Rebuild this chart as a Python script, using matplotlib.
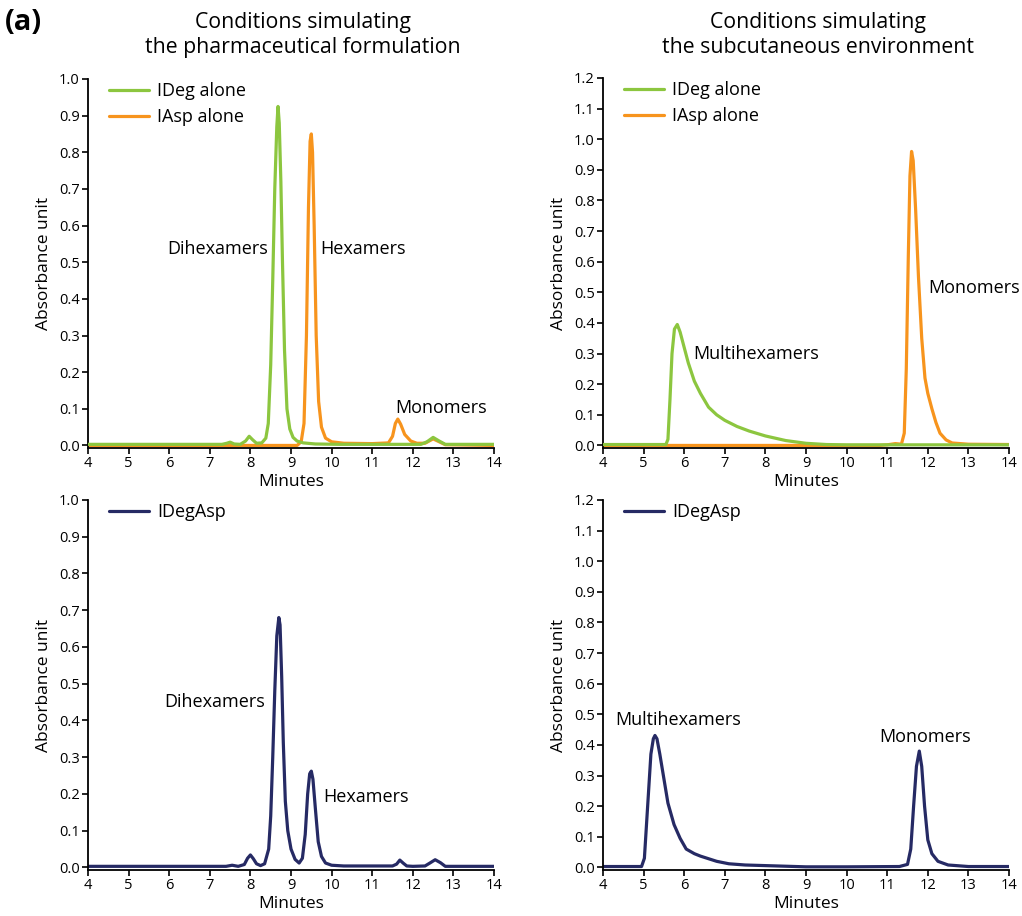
"""
Size-exclusion chromatograms: IDeg, IAsp and IDegAsp
under formulation vs subcutaneous conditions
"""
import matplotlib.pyplot as plt

plt.rcParams['font.family'] = ['Open Sans', 'DejaVu Sans']

GREEN = '#8cc63f'
ORANGE = '#f7941d'
NAVY = '#262a64'

# ---- data (minutes, absorbance unit) ----
# top left: pharmaceutical formulation conditions
form_ideg_x = [4, 7.3, 7.42, 7.5, 7.6, 7.75, 7.88, 7.97, 8.05, 8.15, 8.28, 8.38, 8.44, 8.5,
               8.55, 8.6, 8.65, 8.68, 8.71, 8.75, 8.79, 8.84, 8.9, 8.97, 9.05, 9.15, 9.3,
               9.6, 10.2, 12.2, 12.35, 12.5, 12.65, 12.8, 14]
form_ideg_y = [0.003, 0.003, 0.006, 0.009, 0.004, 0.003, 0.012, 0.025, 0.016, 0.006, 0.007,
               0.02, 0.06, 0.22, 0.45, 0.7, 0.87, 0.925, 0.88, 0.72, 0.5, 0.26, 0.1, 0.045,
               0.022, 0.012, 0.007, 0.004, 0.003, 0.003, 0.01, 0.022, 0.012, 0.003, 0.003]

form_iasp_x = [4, 9.15, 9.25, 9.32, 9.38, 9.43, 9.47, 9.5, 9.53, 9.57, 9.62, 9.68, 9.75,
               9.85, 10.0, 10.3, 11.0, 11.4, 11.5, 11.57, 11.63, 11.7, 11.8, 11.95, 12.1,
               12.3, 12.5, 12.65, 12.8, 14]
form_iasp_y = [0.0, 0.0, 0.01, 0.06, 0.3, 0.65, 0.83, 0.85, 0.8, 0.6, 0.3, 0.12, 0.05,
               0.02, 0.01, 0.006, 0.005, 0.007, 0.025, 0.06, 0.072, 0.058, 0.03, 0.012,
               0.006, 0.006, 0.018, 0.01, 0.002, 0.0]

# top right: subcutaneous conditions
subq_ideg_x = [4, 5.55, 5.6, 5.65, 5.7, 5.76, 5.83, 5.9, 6.0, 6.1, 6.25, 6.4, 6.6, 6.8,
               7.0, 7.3, 7.6, 8.0, 8.5, 9.0, 9.5, 10, 14]
subq_ideg_y = [0.003, 0.003, 0.02, 0.15, 0.3, 0.38, 0.395, 0.37, 0.32, 0.27, 0.21, 0.17,
               0.125, 0.10, 0.082, 0.062, 0.047, 0.031, 0.016, 0.007, 0.003, 0.002, 0.002]

subq_iasp_x = [4, 10.8, 11.0, 11.2, 11.35, 11.42, 11.47, 11.52, 11.56, 11.6, 11.64, 11.7,
               11.77, 11.85, 11.93, 12.0, 12.1, 12.2, 12.3, 12.45, 12.6, 13.0, 14]
subq_iasp_y = [0.0, 0.0, 0.002, 0.006, 0.004, 0.04, 0.25, 0.62, 0.88, 0.96, 0.93, 0.77,
               0.55, 0.35, 0.22, 0.17, 0.12, 0.075, 0.04, 0.018, 0.008, 0.004, 0.003]

# bottom left: IDegAsp, formulation
form_combo_x = [4, 7.4, 7.55, 7.7, 7.85, 7.93, 8.0, 8.07, 8.15, 8.25, 8.35, 8.45, 8.5,
                8.55, 8.6, 8.65, 8.7, 8.73, 8.77, 8.81, 8.86, 8.92, 9.0, 9.1, 9.2, 9.28,
                9.35, 9.41, 9.46, 9.5, 9.54, 9.6, 9.67, 9.75, 9.85, 10.0, 10.3, 11.5,
                11.6, 11.68, 11.76, 11.85, 12.0, 12.3, 12.42, 12.55, 12.68, 12.8, 14]
form_combo_y = [0.003, 0.003, 0.006, 0.003, 0.008, 0.025, 0.034, 0.024, 0.01, 0.005, 0.01,
                0.05, 0.14, 0.3, 0.48, 0.63, 0.68, 0.66, 0.52, 0.34, 0.18, 0.1, 0.05,
                0.022, 0.012, 0.025, 0.09, 0.2, 0.255, 0.262, 0.24, 0.16, 0.07, 0.03,
                0.012, 0.006, 0.004, 0.004, 0.009, 0.02, 0.012, 0.004, 0.003, 0.004,
                0.012, 0.021, 0.013, 0.003, 0.003]

# bottom right: IDegAsp, subcutaneous
subq_combo_x = [4, 4.95, 5.02, 5.1, 5.18, 5.24, 5.28, 5.33, 5.4, 5.5, 5.6, 5.75, 5.9,
                6.05, 6.25, 6.4, 6.8, 7.1, 7.5, 8.0, 9.0, 10.0, 11.3, 11.5, 11.58, 11.65,
                11.72, 11.79, 11.85, 11.92, 12.0, 12.1, 12.25, 12.5, 13.0, 14]
subq_combo_y = [0.003, 0.003, 0.03, 0.2, 0.37, 0.42, 0.431, 0.42, 0.37, 0.29, 0.21, 0.14,
                0.095, 0.06, 0.045, 0.037, 0.02, 0.012, 0.008, 0.006, 0.002, 0.002, 0.003,
                0.01, 0.06, 0.2, 0.33, 0.38, 0.33, 0.2, 0.09, 0.045, 0.02, 0.008, 0.003,
                0.003]

x_ticks = list(range(4, 15))
titles = ['Conditions simulating\nthe pharmaceutical formulation',
          'Conditions simulating\nthe subcutaneous environment']

fig = plt.figure(figsize=(10.22, 9.16), dpi=100)
W = 0.3973
ax_tl = fig.add_axes([0.0861, 0.5109, W, 0.4029])
ax_tr = fig.add_axes([0.5900, 0.5109, W, 0.4040])
ax_bl = fig.add_axes([0.0861, 0.0502, W, 0.4040])
ax_br = fig.add_axes([0.5900, 0.0502, W, 0.4040])

LW = 2.3
line_kw = dict(lw=LW, solid_joinstyle='round', solid_capstyle='round')


def style(ax, ymax):
    ax.set_xlim(4, 14)
    ax.set_ylim(-0.007 * ymax, ymax)
    ax.set_xticks(x_ticks)
    n = int(round(ymax * 10))
    ax.set_yticks([i / 10 for i in range(n + 1)])
    ax.set_yticklabels([f'{i / 10:.1f}' for i in range(n + 1)])
    ax.spines['top'].set_visible(False)
    ax.spines['right'].set_visible(False)
    ax.spines['left'].set_linewidth(1.3)
    ax.spines['bottom'].set_linewidth(1.3)
    ax.tick_params(direction='out', length=4, width=1.2, labelsize=10.5, pad=2)
    ax.set_xlabel('Minutes', fontsize=12.5, labelpad=2)
    ax.set_ylabel('Absorbance unit', fontsize=12.5, labelpad=5)


def add_legend(ax, handles=None, labels=None):
    if handles is None:
        handles, labels = ax.get_legend_handles_labels()
    ax.legend(handles, labels, loc='upper left', frameon=False, fontsize=13,
              handlelength=2.2, handletextpad=0.45, borderaxespad=0.0,
              bbox_to_anchor=(0.035, 1.01), labelspacing=0.42)


ANN = 13

# top left
ax_tl.plot(form_iasp_x, form_iasp_y, color=ORANGE, label='IAsp alone', zorder=2, **line_kw)
ax_tl.plot(form_ideg_x, form_ideg_y, color=GREEN, label='IDeg alone', zorder=3, **line_kw)
style(ax_tl, 1.0)
ax_tl.text(8.43, 0.537, 'Dihexamers', ha='right', va='center', fontsize=ANN)
ax_tl.text(9.71, 0.537, 'Hexamers', ha='left', va='center', fontsize=ANN)
ax_tl.text(12.69, 0.103, 'Monomers', ha='center', va='center', fontsize=ANN)

# top right
ax_tr.plot(subq_iasp_x, subq_iasp_y, color=ORANGE, label='IAsp alone', zorder=2, **line_kw)
ax_tr.plot(subq_ideg_x, subq_ideg_y, color=GREEN, label='IDeg alone', zorder=3, **line_kw)
style(ax_tr, 1.2)
ax_tr.text(6.22, 0.297, 'Multihexamers', ha='left', va='center', fontsize=ANN)
ax_tr.text(12.0, 0.515, 'Monomers', ha='left', va='center', fontsize=ANN)

for ax in (ax_tl, ax_tr):
    h, l = ax.get_legend_handles_labels()
    add_legend(ax, h[::-1], l[::-1])

# bottom left
ax_bl.plot(form_combo_x, form_combo_y, color=NAVY, label='IDegAsp', **line_kw)
style(ax_bl, 1.0)
ax_bl.text(8.36, 0.451, 'Dihexamers', ha='right', va='center', fontsize=ANN)
ax_bl.text(9.79, 0.193, 'Hexamers', ha='left', va='center', fontsize=ANN)

# bottom right
ax_br.plot(subq_combo_x, subq_combo_y, color=NAVY, label='IDegAsp', **line_kw)
style(ax_br, 1.2)
ax_br.text(5.85, 0.482, 'Multihexamers', ha='center', va='center', fontsize=ANN)
ax_br.text(11.93, 0.427, 'Monomers', ha='center', va='center', fontsize=ANN)

for ax in (ax_bl, ax_br):
    add_legend(ax)

fig.text(303 / 1022, 1 - 35 / 916, titles[0], ha='center', va='center', fontsize=15.3,
         linespacing=1.2)
fig.text(818 / 1022, 1 - 35 / 916, titles[1], ha='center', va='center', fontsize=15.3,
         linespacing=1.2)
fig.text(5 / 1022, 1 - 23 / 916, '(a)', ha='left', va='center', fontsize=21,
         fontweight='bold')

fig.savefig('out.png', dpi=100)
